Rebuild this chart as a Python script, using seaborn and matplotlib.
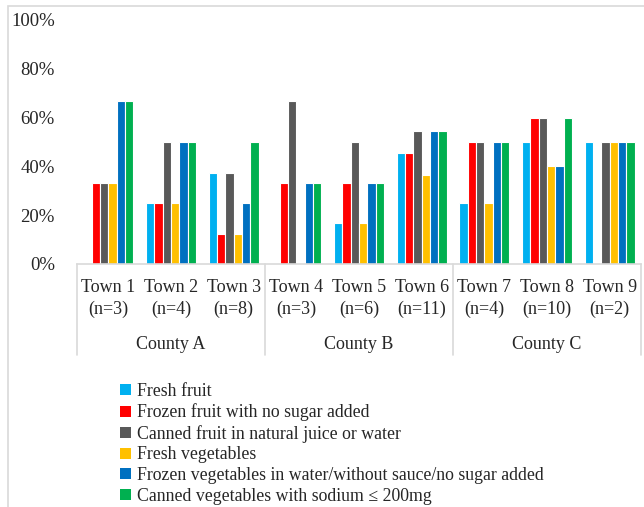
# grouped bar chart: share of stores stocking each food type, by town
import numpy as np
import pandas as pd
import matplotlib
matplotlib.use("Agg")
import matplotlib.pyplot as plt
from matplotlib.patches import Rectangle, Patch
from matplotlib.ticker import PercentFormatter
import seaborn as sns

# DATA
towns = ["Town 1", "Town 2", "Town 3", "Town 4", "Town 5", "Town 6",
         "Town 7", "Town 8", "Town 9"]
n_stores = [3, 4, 8, 3, 6, 11, 4, 10, 2]
counties = ["County A", "County B", "County C"]
towns_per_county = [3, 3, 3]
items = ["Fresh fruit",
         "Frozen fruit with no sugar added",
         "Canned fruit in natural juice or water",
         "Fresh vegetables",
         "Frozen vegetables in water/without sauce/no sugar added",
         "Canned vegetables with sodium \u2264 200mg"]

fresh_fruit = [0, 0.25, 0.375, 0, 0.167, 0.455, 0.25, 0.50, 0.50]
frozen_fruit = [0.333, 0.25, 0.125, 0.333, 0.333, 0.455, 0.50, 0.60, 0]
canned_fruit = [0.333, 0.50, 0.375, 0.667, 0.50, 0.545, 0.50, 0.60, 0.50]
fresh_veg = [0.333, 0.25, 0.125, 0, 0.167, 0.364, 0.25, 0.40, 0.50]
frozen_veg = [0.667, 0.50, 0.25, 0.333, 0.333, 0.545, 0.50, 0.40, 0.50]
canned_veg = [0.667, 0.50, 0.50, 0.333, 0.333, 0.545, 0.50, 0.60, 0.50]

colors = ["#00B0F0", "#FF0000", "#595959", "#FFC000", "#0070C0", "#00B050"]

# long-form table for seaborn
labels = [f"{t}\n(n={n})" for t, n in zip(towns, n_stores)]
series = [fresh_fruit, frozen_fruit, canned_fruit, fresh_veg, frozen_veg, canned_veg]
df = pd.DataFrame({
    "town": np.tile(labels, len(items)),
    "item": np.repeat(items, len(towns)),
    "share": np.concatenate(series),
})

sns.set_theme(style="white")
plt.rcParams["font.family"] = ["Liberation Serif", "DejaVu Serif"]
txt_color = "#262626"
grid_color = "#D9D9D9"

fig = plt.figure(figsize=(6.44, 5.07), dpi=100)
ax = fig.add_axes([77 / 644, 1 - 264 / 507, 564 / 644, 244 / 507])

sns.barplot(data=df, x="town", y="share", hue="item", order=labels,
            hue_order=items, palette=colors, width=0.8, saturation=1,
            edgecolor="white", linewidth=0.8, errorbar=None, ax=ax,
            legend=False)

ax.set_ylim(0, 1)
ax.set_xlim(-0.5, len(towns) - 0.5)
ax.set_yticks(np.arange(0, 1.01, 0.2))
ax.yaxis.set_major_formatter(PercentFormatter(1.0, decimals=0))
ax.set_xlabel("")
ax.set_ylabel("")
ax.tick_params(axis="y", length=0, pad=16, labelsize=13.5, labelcolor=txt_color)
ax.tick_params(axis="x", length=0, pad=11, labelsize=13, labelcolor=txt_color)
for lab in ax.get_xticklabels():
    lab.set_linespacing(1.3)

for side in ["left", "right", "top"]:
    ax.spines[side].set_visible(False)
ax.spines["bottom"].set_color(grid_color)
ax.spines["bottom"].set_linewidth(1.2)

# county level of the category axis
trans = ax.get_xaxis_transform()
start = 0
bounds = [-0.5]
for county, k in zip(counties, towns_per_county):
    ax.text(start + (k - 1) / 2, -0.328, county, transform=trans,
            ha="center", va="center", fontsize=13, color=txt_color)
    start += k
    bounds.append(start - 0.5)
for b in bounds:
    ax.plot([b, b], [0, -0.373], transform=trans, color=grid_color,
            lw=1.2, clip_on=False)

# legend
handles = [Patch(facecolor=c, edgecolor="none") for c in colors]
fig.legend(handles, items, loc="upper left",
           bbox_to_anchor=(120 / 644, 1 - 383 / 507), frameon=False,
           fontsize=12.8, handlelength=0.6, handleheight=0.6,
           handletextpad=0.35, labelspacing=0.2, borderaxespad=0,
           borderpad=0, labelcolor=txt_color)

# chart border
fig.patches.append(Rectangle((8 / 644, -0.1), 1.2, 1 - 6 / 507 + 0.1,
                             transform=fig.transFigure, fill=False,
                             edgecolor=grid_color, lw=1.2))

fig.savefig("out.png", dpi=100)
